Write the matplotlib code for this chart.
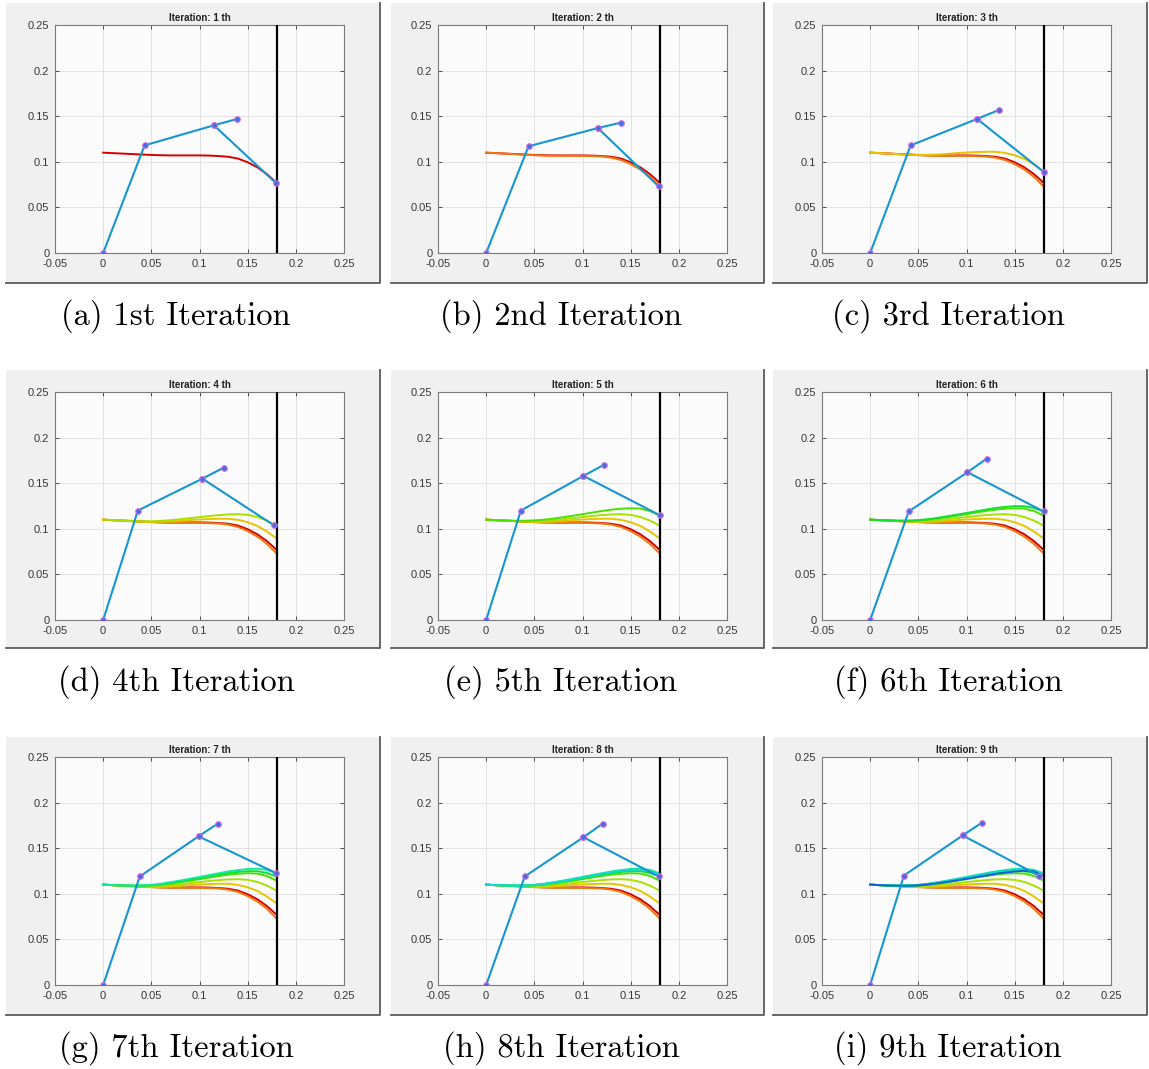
import matplotlib
matplotlib.use("Agg")
import matplotlib.pyplot as plt
from matplotlib.patches import Rectangle
from matplotlib.lines import Line2D

# grid of 9 snapshots, one per iteration; curves accumulate panel by panel

W, H = 1149, 1069

LETTERS = ["a", "b", "c", "d", "e", "f", "g", "h", "i"]
ORDINALS = ["1st", "2nd", "3rd", "4th", "5th", "6th", "7th", "8th", "9th"]

X_SAMPLES = [0.00, 0.01, 0.02, 0.03, 0.04, 0.05, 0.06, 0.07, 0.08, 0.09,
             0.10, 0.11, 0.12, 0.13, 0.14, 0.15, 0.16, 0.17, 0.18]

curve_it1 = [0.1100, 0.1095, 0.1090, 0.1085, 0.1080, 0.1075, 0.1072, 0.1070, 0.1070, 0.1070,
             0.1070, 0.1068, 0.1063, 0.1055, 0.1035, 0.0995, 0.0940, 0.0865, 0.0770]
curve_it2 = [0.1100, 0.1095, 0.1090, 0.1083, 0.1077, 0.1072, 0.1068, 0.1066, 0.1065, 0.1065,
             0.1064, 0.1062, 0.1058, 0.1045, 0.1020, 0.0975, 0.0915, 0.0835, 0.0730]
curve_it3 = [0.1100, 0.1095, 0.1090, 0.1083, 0.1078, 0.1075, 0.1077, 0.1080, 0.1087, 0.1095,
             0.1102, 0.1107, 0.1110, 0.1110, 0.1098, 0.1072, 0.1032, 0.0970, 0.0895]
curve_it4 = [0.1100, 0.1095, 0.1090, 0.1085, 0.1082, 0.1082, 0.1087, 0.1095, 0.1105, 0.1117,
             0.1128, 0.1140, 0.1150, 0.1158, 0.1160, 0.1153, 0.1130, 0.1090, 0.1035]
curve_it5 = [0.1100, 0.1095, 0.1090, 0.1088, 0.1088, 0.1092, 0.1100, 0.1112, 0.1127, 0.1143,
             0.1160, 0.1178, 0.1195, 0.1210, 0.1220, 0.1225, 0.1222, 0.1195, 0.1145]
curve_it6 = [0.1100, 0.1095, 0.1092, 0.1090, 0.1090, 0.1095, 0.1105, 0.1120, 0.1137, 0.1155,
             0.1173, 0.1192, 0.1210, 0.1228, 0.1240, 0.1248, 0.1248, 0.1228, 0.1190]
curve_it7 = [0.1100, 0.1095, 0.1092, 0.1090, 0.1092, 0.1098, 0.1110, 0.1127, 0.1145, 0.1165,
             0.1185, 0.1205, 0.1225, 0.1245, 0.1260, 0.1272, 0.1275, 0.1262, 0.1225]
curve_it8 = [0.1100, 0.1095, 0.1092, 0.1090, 0.1092, 0.1097, 0.1108, 0.1123, 0.1140, 0.1160,
             0.1180, 0.1200, 0.1220, 0.1238, 0.1253, 0.1263, 0.1265, 0.1252, 0.1215]
curve_it9 = [0.1100, 0.1095, 0.1090, 0.1088, 0.1088, 0.1092, 0.1102, 0.1115, 0.1130, 0.1147,
             0.1165, 0.1183, 0.1200, 0.1218, 0.1233, 0.1245, 0.1252, 0.1245, 0.1195]
CURVES = [curve_it1, curve_it2, curve_it3, curve_it4, curve_it5,
          curve_it6, curve_it7, curve_it8, curve_it9]
CURVE_COLORS = ["#d40000", "#f07810", "#e8c400", "#a8e000", "#48e000",
                "#10e030", "#10e8a0", "#10d8d8", "#1460d8"]

# arm configuration per iteration
j1_x = [0.043, 0.044, 0.042, 0.036, 0.036, 0.040, 0.038, 0.040, 0.035]
j1_y = [0.118, 0.117, 0.118, 0.120, 0.120, 0.119, 0.119, 0.119, 0.120]
j2_x = [0.115, 0.116, 0.111, 0.103, 0.101, 0.101, 0.099, 0.101, 0.096]
j2_y = [0.140, 0.137, 0.147, 0.155, 0.158, 0.162, 0.163, 0.162, 0.164]
tip_x = [0.139, 0.140, 0.134, 0.125, 0.122, 0.121, 0.119, 0.121, 0.116]
tip_y = [0.147, 0.143, 0.157, 0.167, 0.170, 0.177, 0.177, 0.177, 0.178]
contact_x = [0.179, 0.179, 0.180, 0.177, 0.180, 0.180, 0.179, 0.179, 0.175]
contact_y = [0.077, 0.073, 0.089, 0.104, 0.115, 0.119, 0.123, 0.119, 0.120]

WALL_X = 0.18
X_TICKS = [-0.05, 0, 0.05, 0.1, 0.15, 0.2, 0.25]
X_TICK_LABELS = ["-0.05", "0", "0.05", "0.1", "0.15", "0.2", "0.25"]
Y_TICKS = [0, 0.05, 0.1, 0.15, 0.2, 0.25]
Y_TICK_LABELS = ["0", "0.05", "0.1", "0.15", "0.2", "0.25"]

ARM_COLOR = "#1596d0"

# pixel layout (top-left origin)
FRAME_LEFT = [6, 391, 773]
FRAME_RIGHT = [380, 764, 1147]
FRAME_TOP = [3, 370, 737]
FRAME_BOTTOM = [283, 648, 1015]
AX_LEFT = [55, 438, 822]
AX_TOP = [25, 392, 757]
AX_W, AX_H = 289, 228
CAPTION_X = [176, 561, 948]
CAPTION_Y = [316, 682, 1048]


def fx(px):
    return px / W


def fy(py):
    return 1 - py / H


fig = plt.figure(figsize=(W / 100, H / 100), dpi=100)
fig.patch.set_facecolor("white")

for k in range(9):
    row, col = divmod(k, 3)
    l, r = FRAME_LEFT[col], FRAME_RIGHT[col]
    t, b = FRAME_TOP[row], FRAME_BOTTOM[row]
    fig.patches.append(Rectangle((fx(l), fy(b)), fx(r - l), (b - t) / H,
                                 transform=fig.transFigure, facecolor="#f0f0f0",
                                 edgecolor="none", zorder=-2))
    fig.lines.append(Line2D([fx(l), fx(r), fx(r)], [fy(b), fy(b), fy(t)],
                            transform=fig.transFigure, color="#5a5a5a", lw=1.3,
                            zorder=-1))

    ax = fig.add_axes([fx(AX_LEFT[col]), fy(AX_TOP[row] + AX_H), AX_W / W, AX_H / H])
    ax.set_facecolor("#fbfbfb")
    ax.set_xlim(-0.05, 0.25)
    ax.set_ylim(0, 0.25)
    ax.set_xticks(X_TICKS, X_TICK_LABELS)
    ax.set_yticks(Y_TICKS, Y_TICK_LABELS)
    ax.tick_params(direction="in", length=3, width=0.6, labelsize=8,
                   colors="#383838", top=True, right=True)
    ax.tick_params(axis="x", pad=4)
    ax.tick_params(axis="y", pad=4)
    for lab in ax.get_xticklabels() + ax.get_yticklabels():
        lab.set_fontfamily("Liberation Sans")
    for s in ax.spines.values():
        s.set_color("#7a7a7a")
        s.set_linewidth(0.8)
    ax.grid(True, color="#e2e2e2", lw=0.7)
    ax.set_axisbelow(True)
    ax.set_title(f"Iteration: {k + 1} th", fontsize=7, fontweight="bold",
                 fontfamily="Liberation Sans", pad=3, color="#222222")

    for n in range(k + 1):
        ax.plot(X_SAMPLES, CURVES[n], color=CURVE_COLORS[n], lw=1.4, zorder=2 + n * 0.01)

    ax.axvline(WALL_X, color="black", lw=1.6, zorder=3)

    arm_kw = dict(color=ARM_COLOR, lw=1.5, marker="o", markersize=4,
                  markerfacecolor="#3f6ee0", markeredgecolor="#d46ad8",
                  markeredgewidth=0.8, zorder=4)
    ax.plot([0, j1_x[k], j2_x[k], tip_x[k]], [0, j1_y[k], j2_y[k], tip_y[k]], **arm_kw)
    ax.plot([j2_x[k], contact_x[k]], [j2_y[k], contact_y[k]], **arm_kw)

    fig.text(fx(CAPTION_X[col]), fy(CAPTION_Y[row]),
             f"({LETTERS[k]}) {ORDINALS[k]} Iteration",
             ha="center", va="center", fontsize=23.5, fontfamily="cmr10")

plt.savefig("out.png", dpi=100)
